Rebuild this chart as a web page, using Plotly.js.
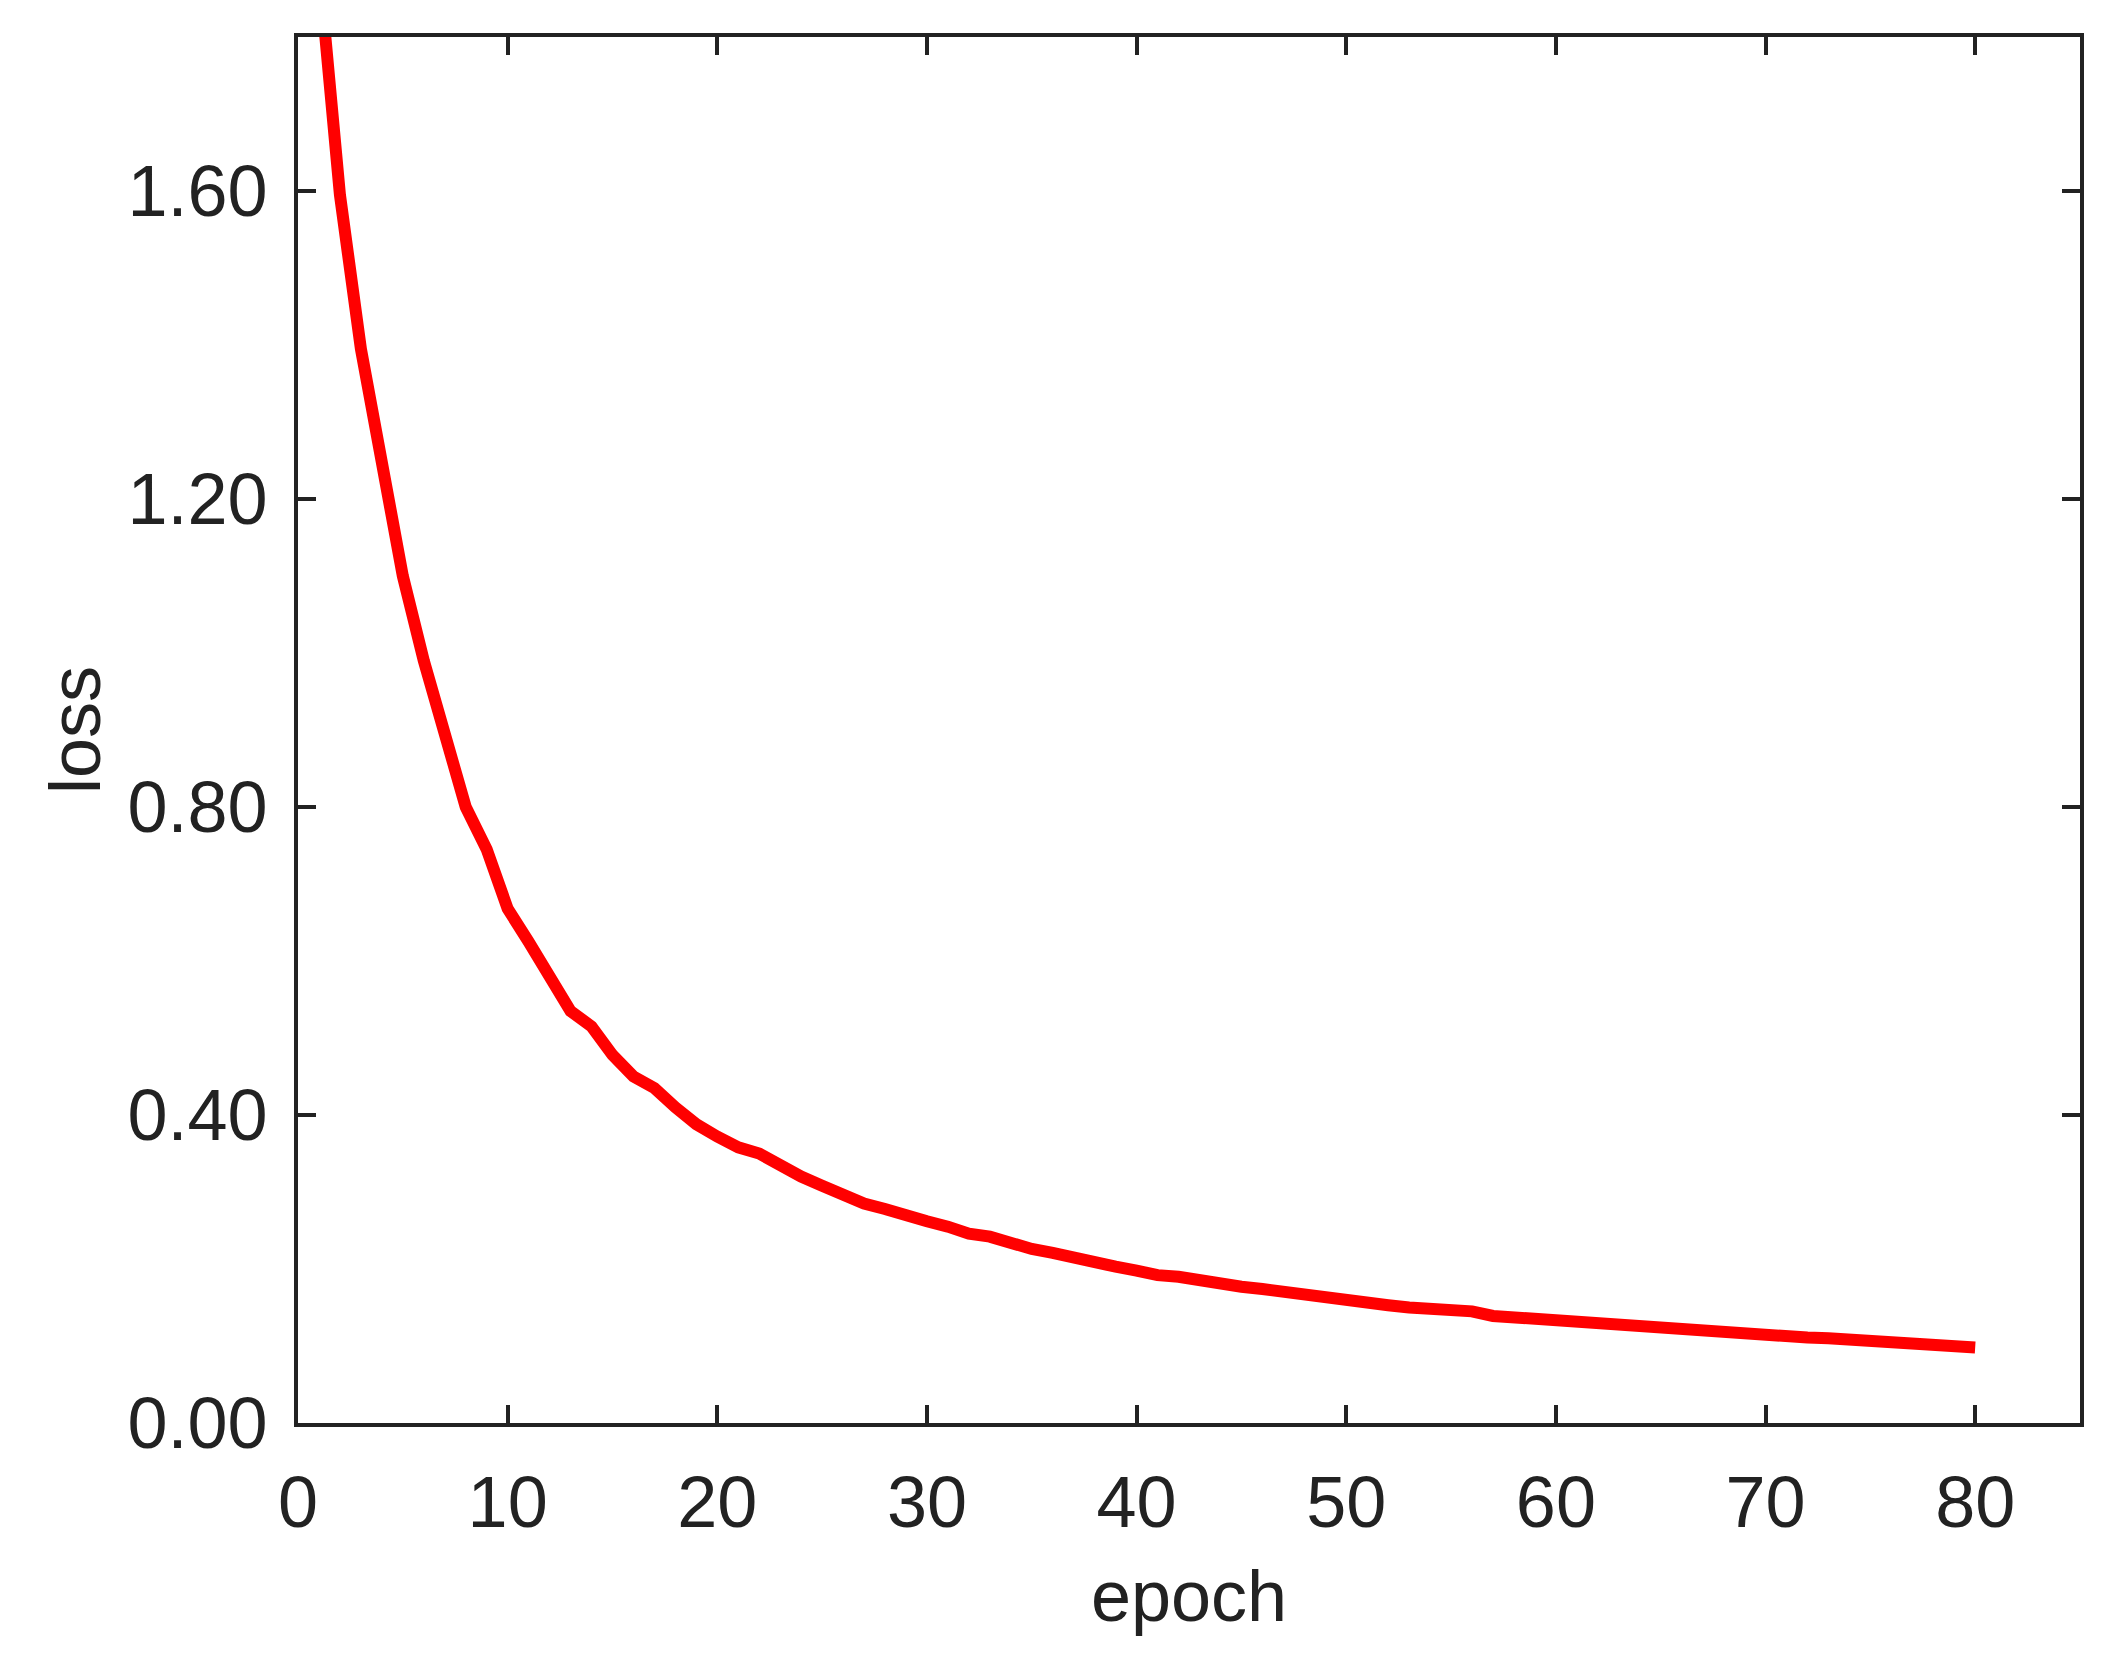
<!DOCTYPE html>
<html>
<head>
<meta charset="utf-8">
<script src="https://cdn.plot.ly/plotly-3.0.1.min.js"></script>
<style>html,body{margin:0;padding:0;background:#fff;}#chart{width:2120px;height:1666px;}</style>
</head>
<body>
<div id="chart"></div>
<script>
const epochs = [];
for (let i = 1; i <= 80; i++) epochs.push(i);
const loss = [
  1.890, 1.595, 1.395, 1.240, 1.100, 0.990, 0.895, 0.800, 0.745, 0.668,
  0.625, 0.578, 0.535, 0.515, 0.478, 0.450, 0.435, 0.410, 0.388, 0.372,
  0.358, 0.350, 0.333, 0.320, 0.308, 0.296, 0.285, 0.278, 0.268, 0.262,
  0.255, 0.246, 0.242, 0.232, 0.226, 0.221, 0.214, 0.209, 0.203, 0.198,
  0.192, 0.190, 0.185, 0.181, 0.177, 0.174, 0.170, 0.166, 0.163, 0.159,
  0.157, 0.153, 0.150, 0.148, 0.146, 0.145, 0.139, 0.137, 0.135, 0.132,
  0.130, 0.129, 0.127, 0.124, 0.122, 0.121, 0.119, 0.117, 0.116, 0.114,
  0.113, 0.111, 0.110, 0.108, 0.107, 0.104, 0.103, 0.102, 0.100, 0.098
];
const xTickVals = [0, 10, 20, 30, 40, 50, 60, 70, 80];
const yTickVals = [0, 0.4, 0.8, 1.2, 1.6];
const yTickText = ["0.00", "0.40", "0.80", "1.20", "1.60"];

const fontFam = '"Liberation Sans", Arial, Helvetica, sans-serif';
const ink = '#222222';

const trace = {
  x: epochs, y: loss, type: 'scatter', mode: 'lines',
  line: {color: '#ff0000', width: 12},
  showlegend: false, hoverinfo: 'none'
};

const axisCommon = {
  showgrid: false, zeroline: false,
  showline: true, linecolor: ink, linewidth: 4, mirror: 'ticks',
  ticks: 'inside', ticklen: 18, tickwidth: 4, tickcolor: ink,
  tickfont: {family: fontFam, size: 72, color: ink}
};

const layout = {
  width: 2120, height: 1666,
  margin: {l: 298, r: 40, t: 37, b: 243, pad: 0},
  paper_bgcolor: '#ffffff', plot_bgcolor: '#ffffff',
  font: {family: fontFam, color: ink},
  xaxis: Object.assign({}, axisCommon, {
    range: [0, 85], tickmode: 'array', tickvals: xTickVals,
    ticklabelstandoff: 14,
    title: {text: 'epoch', font: {family: fontFam, size: 72, color: ink}, standoff: 30}
  }),
  yaxis: Object.assign({}, axisCommon, {
    range: [0, 1.8], tickmode: 'array', tickvals: yTickVals, ticktext: yTickText,
    ticklabelstandoff: 12,
    title: {text: 'loss', font: {family: fontFam, size: 72, color: ink}, standoff: 4}
  })
};

Plotly.newPlot('chart', [trace], layout, {staticPlot: true, displayModeBar: false});
</script>
</body>
</html>
